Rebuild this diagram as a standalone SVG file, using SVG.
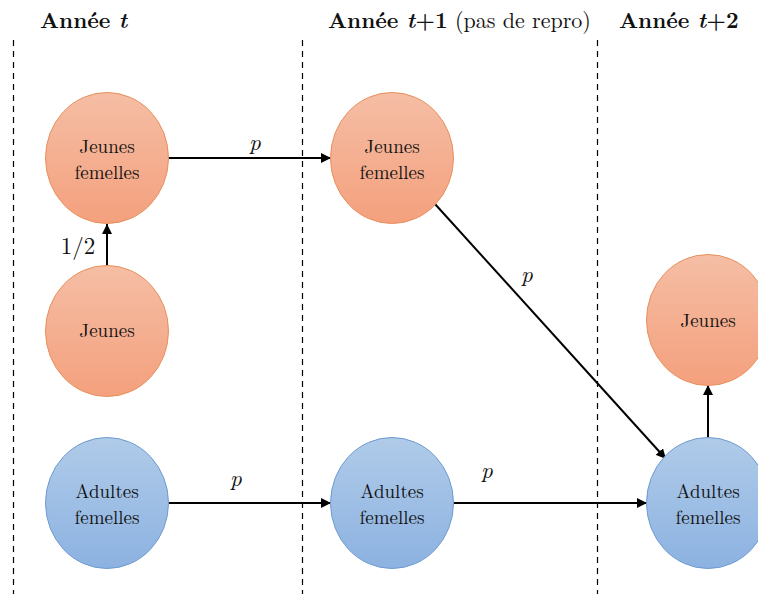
<svg xmlns="http://www.w3.org/2000/svg" width="758" height="594" viewBox="0 0 758 594">
<style>
.lbl{font-family:"Latin Modern Roman","DejaVu Serif",serif;font-size:19px;fill:#111;text-anchor:middle}
.hdr{font-family:"Latin Modern Roman","DejaVu Serif",serif;font-size:22px;fill:#111}
.b{font-weight:bold}
.it{font-style:italic}
.dash{stroke:#000;stroke-width:1.2;stroke-dasharray:6,5;fill:none}
.edge{stroke:#000;stroke-width:2;fill:none;marker-end:url(#ah)}
.elbl{font-family:"Latin Modern Roman","DejaVu Serif",serif;font-size:23px;fill:#111;text-anchor:middle}
.or{fill:url(#go);stroke:#E8905C;stroke-width:1}
.bl{fill:url(#gb);stroke:#6E9BD0;stroke-width:1}
</style>
<defs>
<linearGradient id="go" x1="0" y1="0" x2="0" y2="1"><stop offset="0" stop-color="#F5BEA5"/><stop offset="1" stop-color="#F4A07D"/></linearGradient>
<linearGradient id="gb" x1="0" y1="0" x2="0" y2="1"><stop offset="0" stop-color="#B0CBE9"/><stop offset="1" stop-color="#8CB2E1"/></linearGradient>
<marker id="ah" viewBox="0 0 10 10" refX="10" refY="5" markerWidth="5" markerHeight="5" orient="auto" markerUnits="strokeWidth"><path d="M0,0 L10,5 L0,10 z" fill="#000"/></marker>
</defs>
<g id="headers">
<text class="hdr b" x="40" y="28">Année <tspan class="it">t</tspan></text>
<text class="hdr" x="328" y="28"><tspan class="b">Année </tspan><tspan class="b it">t</tspan><tspan class="b">+1</tspan> (pas de repro)</text>
<text class="hdr b" x="619" y="28">Année <tspan class="it">t</tspan>+2</text>
</g>
<g id="separators">
<line class="dash" x1="13.5" y1="40" x2="13.5" y2="594"/>
<line class="dash" x1="302.5" y1="40" x2="302.5" y2="594"/>
<line class="dash" x1="597.5" y1="40" x2="597.5" y2="594"/>
</g>
<g id="connectors">
<line class="edge" x1="168" y1="158" x2="331" y2="158"/>
<line class="edge" x1="107" y1="266" x2="107" y2="224"/>
<line class="edge" x1="168" y1="503" x2="331" y2="503"/>
<line class="edge" x1="454" y1="503" x2="647" y2="503"/>
<line class="edge" x1="435" y1="204" x2="666" y2="459"/>
<line class="edge" x1="708" y1="438" x2="708" y2="385"/>
<text class="elbl it" x="255" y="150">p</text>
<text class="elbl" x="78" y="254">1/2</text>
<text class="elbl it" x="236" y="486">p</text>
<text class="elbl it" x="487" y="478">p</text>
<text class="elbl it" x="527" y="282">p</text>
</g>
<g id="jf_t"><ellipse class="or" cx="107" cy="158" rx="61.5" ry="65.5"/><text class="lbl" x="107" y="153">Jeunes</text><text class="lbl" x="107" y="179">femelles</text></g>
<g id="j_t"><ellipse class="or" cx="107" cy="331" rx="61.5" ry="65.5"/><text class="lbl" x="107" y="337">Jeunes</text></g>
<g id="af_t"><ellipse class="bl" cx="107" cy="503" rx="61.5" ry="65.5"/><text class="lbl" x="107" y="498">Adultes</text><text class="lbl" x="107" y="524">femelles</text></g>
<g id="jf_t1"><ellipse class="or" cx="392" cy="158" rx="61.5" ry="65.5"/><text class="lbl" x="392" y="153">Jeunes</text><text class="lbl" x="392" y="179">femelles</text></g>
<g id="af_t1"><ellipse class="bl" cx="392" cy="503" rx="61.5" ry="65.5"/><text class="lbl" x="392" y="498">Adultes</text><text class="lbl" x="392" y="524">femelles</text></g>
<g id="j_t2"><ellipse class="or" cx="708" cy="320" rx="61.5" ry="65.5"/><text class="lbl" x="708" y="327">Jeunes</text></g>
<g id="af_t2"><ellipse class="bl" cx="708" cy="503" rx="61.5" ry="65.5"/><text class="lbl" x="708" y="498">Adultes</text><text class="lbl" x="708" y="524">femelles</text></g>
</svg>
